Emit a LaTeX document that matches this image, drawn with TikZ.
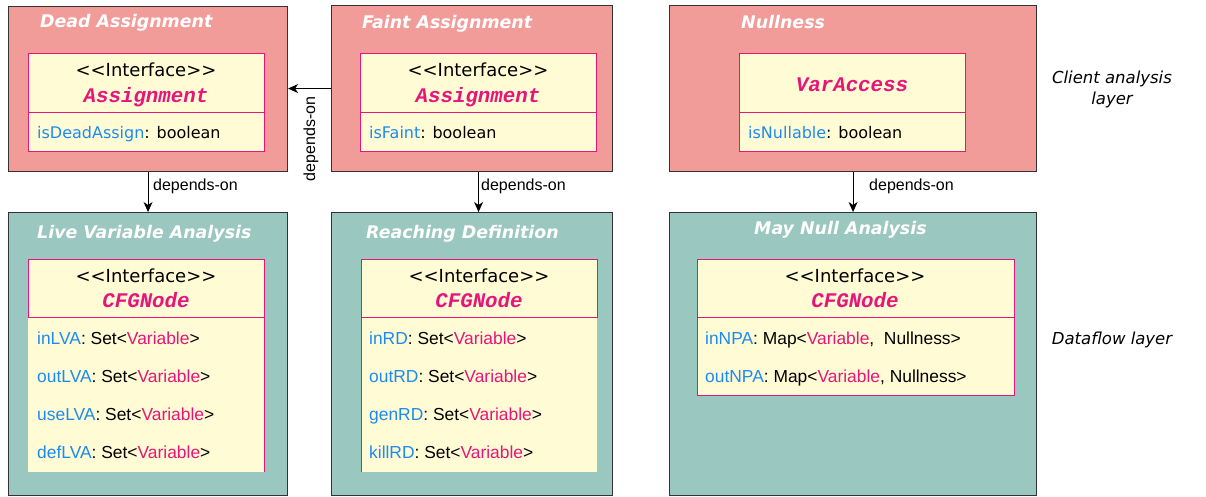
\documentclass[tikz,border=0pt]{standalone}
\usepackage{fontspec}
\setmainfont{DejaVu Sans}
\newfontfamily\arialf{Liberation Sans}
\newfontfamily\monof{Liberation Mono}
\usetikzlibrary{arrows.meta}
\definecolor{clientfill}{HTML}{F19C99}
\definecolor{flowfill}{HTML}{9AC7BF}
\definecolor{ifacefill}{HTML}{FFFBD4}
\definecolor{ifaceline}{HTML}{E6157A}
\definecolor{attrblue}{HTML}{1C8BF0}
\definecolor{framegray}{HTML}{333333}
\tikzset{
  layerbox/.style={draw=framegray, line width=1.1pt, anchor=north west, inner sep=0pt},
  ifhead/.style={draw=ifaceline, line width=0.9pt, fill=ifacefill, anchor=north west, inner sep=0pt},
  ifbody/.style={fill=ifacefill, anchor=north west, inner sep=0pt},
  title/.style={anchor=base west, inner sep=0pt, text=white, font=\fontsize{17.4}{20}\selectfont\bfseries\itshape},
  stereo/.style={anchor=base, inner sep=0pt, font=\fontsize{18}{20}\selectfont},
  classname/.style={anchor=base, inner sep=0pt, text=ifaceline, font=\fontsize{20.8}{23}\selectfont\monof\bfseries\itshape},
  attrtop/.style={anchor=base west, inner sep=0pt, font=\fontsize{16}{19}\selectfont},
  attr/.style={anchor=base west, inner sep=0pt, font=\fontsize{17.4}{20}\selectfont\arialf},
  deplabel/.style={inner sep=0pt, font=\fontsize{16}{18}\selectfont\arialf},
  layerlabel/.style={inner sep=0pt, align=center, font=\fontsize{16.5}{21}\selectfont\itshape},
  dep/.style={line width=0.9pt, -{Stealth[length=10pt, width=9pt, inset=3pt]}}
}
\newcommand{\fname}[1]{\textcolor{attrblue}{#1}}
\newcommand{\vname}[1]{\textcolor{ifaceline}{#1}}
\newcommand{\stereotype}[1]{<{}<#1>{}>}
\begin{document}
\begin{tikzpicture}[x=1pt, y=-1pt]
\useasboundingbox (0,0) rectangle (1206,496);

% ---------- client analysis layer ----------
\node[layerbox, fill=clientfill, minimum width=279pt, minimum height=165pt] (dead) at (8,6) {};
\node[layerbox, fill=clientfill, minimum width=281pt, minimum height=166pt] (faint) at (331,5) {};
\node[layerbox, fill=clientfill, minimum width=367pt, minimum height=166pt] (null) at (669,5) {};

\node[title] (deadT) at (40,27) {Dead Assignment};
\node[title] (faintT) at (362,28) {Faint Assignment};
\node[title] (nullT) at (741,28) {Nullness};

% Assignment interface (dead assignment)
\node[ifhead, minimum width=236pt, minimum height=59pt] (deadH) at (28,53) {};
\node[ifhead, minimum width=236pt, minimum height=39pt] (deadB) at (28,112) {};
\node[stereo] (deadS) at (146,76) {\stereotype{Interface}};
\node[classname] (deadC) at (146,102) {Assignment};
\node[attrtop] (deadA) at (37,138) {\fname{isDeadAssign}: boolean};

% Assignment interface (faint assignment)
\node[ifhead, minimum width=236pt, minimum height=59pt] (faintH) at (360,53) {};
\node[ifhead, minimum width=236pt, minimum height=39pt] (faintB) at (360,112) {};
\node[stereo] (faintS) at (478,76) {\stereotype{Interface}};
\node[classname] (faintC) at (478,102) {Assignment};
\node[attrtop] (faintA) at (369,138) {\fname{isFaint}: boolean};

% VarAccess (nullness)
\node[ifhead, minimum width=226pt, minimum height=59pt] (nullH) at (739,53) {};
\node[ifhead, minimum width=226pt, minimum height=39pt] (nullB) at (739,112) {};
\node[classname] (nullC) at (852,91) {VarAccess};
\node[attrtop] (nullA) at (748,138) {\fname{isNullable}: boolean};

% ---------- dataflow layer ----------
\node[layerbox, fill=flowfill, minimum width=279pt, minimum height=283pt] (lva) at (8,212) {};
\node[layerbox, fill=flowfill, minimum width=281pt, minimum height=283pt] (rd) at (331,212) {};
\node[layerbox, fill=flowfill, minimum width=367pt, minimum height=283pt] (npa) at (669,212) {};

\node[title] (lvaT) at (37,238) {Live Variable Analysis};
\node[title] (rdT) at (366,238) {Reaching Definition};
\node[title] (npaT) at (754,234) {May Null Analysis};

% CFGNode interface (live variables)
\node[ifbody, minimum width=236pt, minimum height=155pt] (lvaB) at (28,317) {};
\draw[ifaceline, line width=0.9pt] (lvaB.north east) -- (lvaB.south east);
\node[ifhead, minimum width=236pt, minimum height=58pt] (lvaH) at (28,259) {};
\node[stereo] (lvaS) at (146,282) {\stereotype{Interface}};
\node[classname] (lvaC) at (146,307) {CFGNode};
\node[attr] (lva1) at (37,344) {\fname{inLVA}: Set<\vname{Variable}>};
\node[attr] (lva2) at (37,382) {\fname{outLVA}: Set<\vname{Variable}>};
\node[attr] (lva3) at (37,420) {\fname{useLVA}: Set<\vname{Variable}>};
\node[attr] (lva4) at (37,458) {\fname{defLVA}: Set<\vname{Variable}>};

% CFGNode interface (reaching definitions)
\node[ifbody, minimum width=236pt, minimum height=155pt] (rdB) at (361,317) {};
\draw[ifaceline, line width=0.9pt] (rdB.north west) -- (rdB.south west);
\node[ifhead, minimum width=236pt, minimum height=58pt] (rdH) at (361,259) {};
\node[stereo] (rdS) at (479,282) {\stereotype{Interface}};
\node[classname] (rdC) at (479,307) {CFGNode};
\node[attr] (rd1) at (369,344) {\fname{inRD}: Set<\vname{Variable}>};
\node[attr] (rd2) at (369,382) {\fname{outRD}: Set<\vname{Variable}>};
\node[attr] (rd3) at (369,420) {\fname{genRD}: Set<\vname{Variable}>};
\node[attr] (rd4) at (369,458) {\fname{killRD}: Set<\vname{Variable}>};

% CFGNode interface (may-null)
\node[ifbody, draw=ifaceline, line width=0.6pt, minimum width=317pt, minimum height=78pt] (npaB) at (697,317) {};
\node[ifhead, minimum width=317pt, minimum height=58pt] (npaH) at (697,259) {};
\node[stereo] (npaS) at (855,282) {\stereotype{Interface}};
\node[classname] (npaC) at (855,307) {CFGNode};
\node[attr] (npa1) at (705,344) {\fname{inNPA}: Map<\vname{Variable},\ \ Nullness>};
\node[attr] (npa2) at (705,382) {\fname{outNPA}: Map<\vname{Variable}, Nullness>};

% ---------- layer captions ----------
\node[layerlabel] (cl) at (1112,89) {Client analysis\\layer};
\node[layerlabel] (dl) at (1112,340) {Dataflow layer};

% ---------- dependencies ----------
\draw[dep] (dead.south) -- (lva.north);
\node[deplabel, anchor=west] (d1) at (153,186) {depends-on};

\draw[dep] (faint.west) -- (faint.west -| dead.east);
\node[deplabel, rotate=90] (d2) at (311,139) {depends-on};

\draw[dep] ([xshift=6.5pt]faint.south) -- ([xshift=6.5pt]faint.south |- rd.north);
\node[deplabel, anchor=west] (d3) at (481,186) {depends-on};

\draw[dep] (null.south) -- (null.south |- npa.north);
\node[deplabel, anchor=west] (d4) at (869,186) {depends-on};
\end{tikzpicture}
\end{document}
